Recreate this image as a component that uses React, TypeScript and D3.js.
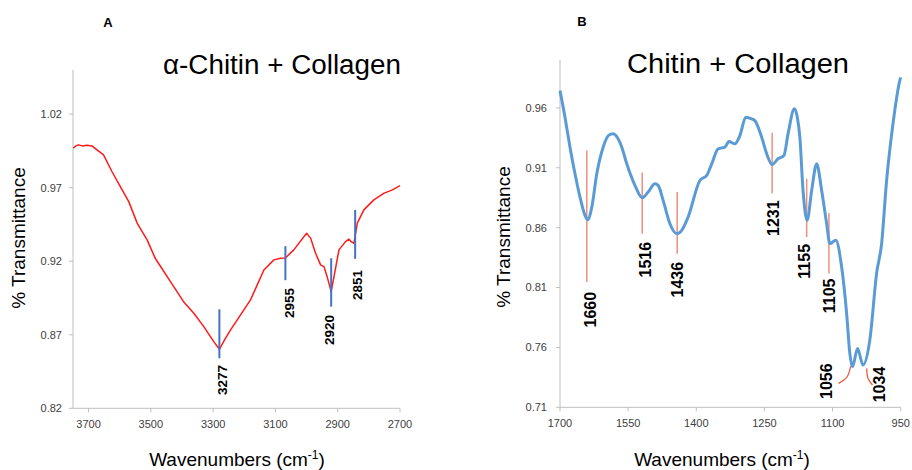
import React from "react";
import * as d3 from "d3";

// Panel A: alpha-chitin + collagen
const specAWn = [3749, 3740, 3732, 3720, 3705, 3689, 3673, 3652, 3625, 3598, 3571, 3544, 3512, 3486, 3437, 3395, 3362, 3330, 3298, 3280, 3262, 3244, 3212, 3180, 3137, 3105, 3084, 3068, 3041, 3000, 2987, 2971, 2955, 2944, 2934, 2921, 2910, 2896, 2875, 2864, 2857, 2848, 2837, 2816, 2784, 2751, 2724, 2700];
const specAT = [0.9969, 0.9985, 0.9991, 0.9984, 0.9988, 0.9984, 0.9957, 0.9923, 0.981, 0.9707, 0.9605, 0.9459, 0.9345, 0.922, 0.9061, 0.8925, 0.8846, 0.8755, 0.8653, 0.8601, 0.867, 0.8733, 0.8835, 0.8937, 0.914, 0.9209, 0.922, 0.9222, 0.9277, 0.939, 0.9357, 0.9254, 0.9175, 0.9163, 0.9095, 0.8993, 0.9118, 0.9277, 0.9333, 0.935, 0.9333, 0.9322, 0.9459, 0.9549, 0.9617, 0.9663, 0.9685, 0.9714];
const ticksAX = [3700, 3500, 3300, 3100, 2900, 2700];
const ticksAY = [0.82, 0.87, 0.92, 0.97, 1.02];
const peakALabels = ["3277", "2955", "2920", "2851"];
const peakAWn = [3280, 3068, 2921, 2844];
const peakATop = [0.8873, 0.9302, 0.922, 0.9549];
const peakABottom = [0.854, 0.9071, 0.8891, 0.9216];
const peakALabelWn = [3271, 3056, 2926, 2839];
const peakALabelTop = [0.8495, 0.9018, 0.8835, 0.9141];

// Panel B: chitin + collagen
const specBWn = [1700, 1689, 1678, 1667, 1656, 1645, 1639, 1630, 1619, 1605, 1593, 1583, 1575, 1564, 1553, 1535, 1519, 1506, 1491, 1484, 1473, 1458, 1443, 1432, 1418, 1392, 1377, 1366, 1352, 1337, 1328, 1315, 1304, 1291, 1278, 1271, 1256, 1245, 1233, 1220, 1207, 1198, 1184, 1178, 1172, 1165, 1156, 1146, 1135, 1124, 1113, 1106, 1093, 1080, 1069, 1062, 1056, 1045, 1033, 1018, 1003, 992, 981, 967, 952, 950];
const specBT = [0.9744, 0.9522, 0.9272, 0.905, 0.8855, 0.8703, 0.8667, 0.8772, 0.905, 0.9272, 0.937, 0.9385, 0.936, 0.9272, 0.9133, 0.8953, 0.885, 0.8897, 0.8967, 0.8953, 0.8828, 0.8633, 0.855, 0.8578, 0.8688, 0.8994, 0.9036, 0.9133, 0.9258, 0.9272, 0.9319, 0.93, 0.9369, 0.9522, 0.9508, 0.9494, 0.9355, 0.9217, 0.9128, 0.9175, 0.9203, 0.9383, 0.9592, 0.953, 0.9355, 0.8911, 0.8661, 0.8911, 0.9133, 0.8911, 0.8633, 0.8467, 0.8494, 0.8272, 0.7883, 0.755, 0.7438, 0.7592, 0.7453, 0.7661, 0.822, 0.8467, 0.8994, 0.9467, 0.9828, 0.9855];
const ticksBX = [1700, 1550, 1400, 1250, 1100, 950];
const ticksBY = [0.71, 0.76, 0.81, 0.86, 0.91, 0.96];
const peakBLabels = ["1660", "1516", "1436", "1231", "1155", "1105"];
const peakBWn = [1641, 1519, 1442, 1233, 1157, 1108];
const peakBTop = [0.9244, 0.9061, 0.8897, 0.9392, 0.9008, 0.8722];
const peakBBottom = [0.8147, 0.855, 0.8383, 0.8888, 0.8522, 0.8217];
const peakBLabelWn = [1634, 1512, 1441, 1231, 1163, 1108];
const peakBLabelTop = [0.8064, 0.8481, 0.8314, 0.8828, 0.8464, 0.8175];
const leaderBLabels = ["1056", "1034"];
const leaderBWn = [[1060, 1068, 1087], [1025, 1022, 1012]];
const leaderBT = [[0.7445, 0.7354, 0.73], [0.7425, 0.7342, 0.7286]];
const leaderBLabelWn = [1115, 998];
const leaderBLabelTop = [0.7467, 0.7439];

const FONT = "'Liberation Sans', Arial, sans-serif";
const AXIS_COLOR = "#BFBFBF";
const TICK_TEXT = "#404040";

function Axes({ x, y, xTicks, yTicks, fmtY, yLabelGap }: any) {
  const [x0, x1] = x.range();
  const [y0, y1] = y.range();
  return (
    <g>
      <line x1={x0} x2={x0} y1={y0} y2={y1} stroke={AXIS_COLOR} strokeWidth={1} />
      <line x1={x0} x2={x1} y1={y0} y2={y0} stroke={AXIS_COLOR} strokeWidth={1} />
      {yTicks.map((t: number) => (
        <g key={"y" + t}>
          <line x1={x0 - 4} x2={x0} y1={y(t)} y2={y(t)} stroke={AXIS_COLOR} />
          <text x={x0 - yLabelGap} y={y(t)} dy="0.35em" textAnchor="end" fontSize={11} fontFamily={FONT} fill={TICK_TEXT}>
            {fmtY(t)}
          </text>
        </g>
      ))}
      {xTicks.map((t: number) => (
        <g key={"x" + t}>
          <line x1={x(t)} x2={x(t)} y1={y0} y2={y0 + 4} stroke={AXIS_COLOR} />
          <text x={x(t)} y={y0 + 20} textAnchor="middle" fontSize={11} fontFamily={FONT} fill={TICK_TEXT}>
            {t}
          </text>
        </g>
      ))}
    </g>
  );
}

function RotLabel({ x, y, text, size }: any) {
  return (
    <text
      transform={`translate(${x},${y}) rotate(-90)`}
      textAnchor="end"
      dy="0.36em"
      fontSize={size}
      fontWeight="bold"
      fontFamily={FONT}
      fill="#000"
    >
      {text}
    </text>
  );
}

export default function App() {
  const xA = d3.scaleLinear().domain([3750, 2700]).range([73, 400]);
  const yA = d3.scaleLinear().domain([0.82, 1.05]).range([408.3, 70]);
  const xB = d3.scaleLinear().domain([1700, 950]).range([560, 900.7]);
  const yB = d3.scaleLinear().domain([0.71, 1.0]).range([407.3, 60]);

  const lineA = d3
    .line<number>()
    .x((_, i) => xA(specAWn[i]))
    .y((d) => yA(d))
    .curve(d3.curveLinear);
  const lineB = d3
    .line<number>()
    .x((_, i) => xB(specBWn[i]))
    .y((d) => yB(d))
    .curve(d3.curveMonotoneX);
  const fmt = d3.format(".2f");

  return (
    <svg width={912} height={470} style={{ position: "absolute", left: 0, top: 0, background: "#fff" }}>
      {/* Panel A */}
      <text x={108} y={27} textAnchor="middle" fontSize={13} fontWeight="bold" fontFamily={FONT}>A</text>
      <text x={282} y={74} textAnchor="middle" fontSize={27} fontFamily={FONT} textLength={238} lengthAdjust="spacingAndGlyphs">α-Chitin + Collagen</text>
      <Axes x={xA} y={yA} xTicks={ticksAX} yTicks={ticksAY} fmtY={fmt} yLabelGap={11} />
      <path d={lineA(specAT) || ""} fill="none" stroke="#FF1A1A" strokeWidth={1.5} strokeLinejoin="round" />
      {peakALabels.map((lab, i) => (
        <g key={lab}>
          <line x1={xA(peakAWn[i])} x2={xA(peakAWn[i])} y1={yA(peakATop[i])} y2={yA(peakABottom[i])} stroke="#4472C4" strokeWidth={2} />
          <RotLabel x={xA(peakALabelWn[i])} y={yA(peakALabelTop[i])} text={lab} size={13.5} />
        </g>
      ))}
      <text transform="translate(25,238) rotate(-90)" textAnchor="middle" fontSize={19} fontFamily={FONT}>% Transmittance</text>
      <text x={237} y={466} textAnchor="middle" fontSize={19} fontFamily={FONT}>
        Wavenumbers (cm<tspan fontSize={12} dy={-7}>-1</tspan><tspan dy={7}>)</tspan>
      </text>

      {/* Panel B */}
      <text x={582} y={26} textAnchor="middle" fontSize={13} fontWeight="bold" fontFamily={FONT}>B</text>
      <text x={738} y={73} textAnchor="middle" fontSize={27} fontFamily={FONT} textLength={222} lengthAdjust="spacingAndGlyphs">Chitin + Collagen</text>
      <Axes x={xB} y={yB} xTicks={ticksBX} yTicks={ticksBY} fmtY={fmt} yLabelGap={13} />
      {peakBLabels.map((lab, i) => (
        <line key={"m" + lab} x1={xB(peakBWn[i])} x2={xB(peakBWn[i])} y1={yB(peakBTop[i])} y2={yB(peakBBottom[i])} stroke="#F08E7C" strokeWidth={1.5} />
      ))}
      {leaderBLabels.map((lab, i) => {
        const l = d3
          .line<number>()
          .x((_, j) => xB(leaderBWn[i][j]))
          .y((d) => yB(d))
          .curve(d3.curveNatural);
        return <path key={"l" + lab} d={l(leaderBT[i]) || ""} fill="none" stroke="#E8604C" strokeWidth={1.3} />;
      })}
      <path d={lineB(specBT) || ""} fill="none" stroke="#5B9BD5" strokeWidth={3} strokeLinejoin="round" />
      {peakBLabels.map((lab, i) => (
        <RotLabel key={"t" + lab} x={xB(peakBLabelWn[i])} y={yB(peakBLabelTop[i])} text={lab} size={16} />
      ))}
      {leaderBLabels.map((lab, i) => (
        <RotLabel key={"lt" + lab} x={xB(leaderBLabelWn[i])} y={yB(leaderBLabelTop[i])} text={lab} size={16} />
      ))}
      <text transform="translate(510,237) rotate(-90)" textAnchor="middle" fontSize={19} fontFamily={FONT}>% Transmittance</text>
      <text x={722} y={466} textAnchor="middle" fontSize={19} fontFamily={FONT}>
        Wavenumbers (cm<tspan fontSize={12} dy={-7}>-1</tspan><tspan dy={7}>)</tspan>
      </text>
    </svg>
  );
}
